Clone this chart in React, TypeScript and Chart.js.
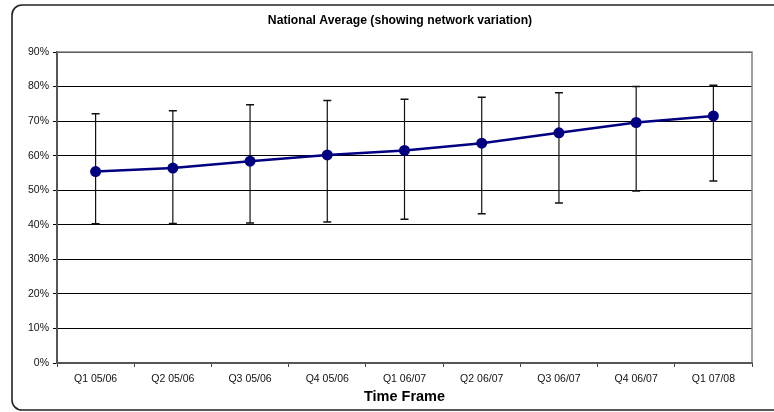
import React, { useEffect, useRef } from "react";
import { Chart, registerables } from "chart.js";

Chart.register(...registerables);

const categories = [
  "Q1 05/06",
  "Q2 05/06",
  "Q3 05/06",
  "Q4 05/06",
  "Q1 06/07",
  "Q2 06/07",
  "Q3 06/07",
  "Q4 06/07",
  "Q1 07/08",
];
const averageValues = [55.4, 56.4, 58.4, 60.2, 61.5, 63.6, 66.6, 69.6, 71.5];
const upperValues = [72.1, 73.0, 74.7, 76.0, 76.3, 76.9, 78.2, 80.0, 80.4];
const lowerValues = [40.3, 40.4, 40.5, 40.8, 41.6, 43.2, 46.3, 49.8, 52.7];
const yTickValues = [0, 10, 20, 30, 40, 50, 60, 70, 80, 90];

const chartTitle = "National Average (showing network variation)";
const xAxisTitle = "Time Frame";

const FONT = "'Liberation Sans', Arial, sans-serif";

const errorBarPlugin = {
  id: "errorBars",
  beforeDatasetsDraw(chart: any) {
    const { ctx, scales } = chart;
    const x = scales.x;
    const y = scales.y;
    ctx.save();
    ctx.strokeStyle = "#111";
    categories.forEach((_, i) => {
      const px = x.getPixelForValue(i);
      const top = y.getPixelForValue(upperValues[i]);
      const bot = y.getPixelForValue(lowerValues[i]);
      ctx.lineWidth = 1.2;
      ctx.beginPath();
      ctx.moveTo(px, top);
      ctx.lineTo(px, bot);
      ctx.stroke();
      ctx.lineWidth = 1.5;
      ctx.beginPath();
      ctx.moveTo(px - 4, top);
      ctx.lineTo(px + 4, top);
      ctx.moveTo(px - 4, bot);
      ctx.lineTo(px + 4, bot);
      ctx.stroke();
    });
    ctx.restore();
  },
};

const framePlugin = {
  id: "frame",
  beforeDatasetsDraw(chart: any) {
    const { ctx, chartArea } = chart;
    ctx.save();
    ctx.strokeStyle = "#808080";
    ctx.lineWidth = 1.5;
    ctx.beginPath();
    ctx.moveTo(chartArea.left, chartArea.top);
    ctx.lineTo(chartArea.right, chartArea.top);
    ctx.lineTo(chartArea.right, chartArea.bottom);
    ctx.stroke();
    ctx.restore();
  },
  afterDraw(chart: any) {
    const { ctx } = chart;
    ctx.save();
    ctx.strokeStyle = "#222";
    ctx.lineWidth = 1.6;
    ctx.beginPath();
    ctx.roundRect(12, 5, 800, 405, 10);
    ctx.stroke();
    ctx.fillStyle = "#000";
    ctx.font = `bold 12.2px ${FONT}`;
    ctx.textAlign = "center";
    ctx.textBaseline = "middle";
    ctx.fillText(chartTitle, 400, 21);
    ctx.restore();
  },
};

export default function App() {
  const canvasRef = useRef<HTMLCanvasElement | null>(null);

  useEffect(() => {
    if (!canvasRef.current) return;
    const chart = new Chart(canvasRef.current, {
      type: "line",
      data: {
        labels: categories,
        datasets: [
          {
            label: "National Average",
            data: averageValues,
            borderColor: "#000080",
            backgroundColor: "#000080",
            borderWidth: 2.5,
            pointRadius: 5.5,
            pointBackgroundColor: "#000080",
            pointBorderColor: "#000080",
            pointBorderWidth: 0,
            tension: 0,
            fill: false,
          },
        ],
      },
      options: {
        animation: false,
        responsive: false,
        devicePixelRatio: 1,
        layout: { padding: { left: 12, right: 22, top: 52, bottom: 0 } },
        plugins: {
          legend: { display: false },
          tooltip: { enabled: false },
          title: { display: false },
        },
        scales: {
          x: {
            type: "category",
            offset: true,
            afterFit(scale: any) {
              scale.height = 49;
            },
            grid: {
              offset: true,
              drawOnChartArea: false,
              drawTicks: true,
              tickLength: 4,
              color: "#444",
              lineWidth: 1,
            },
            border: { display: true, color: "#555", width: 2 },
            ticks: {
              color: "#111",
              padding: 6,
              maxRotation: 0,
              autoSkip: false,
              font: { family: FONT, size: 10.5 },
            },
            title: {
              display: true,
              text: xAxisTitle,
              color: "#000",
              font: { family: FONT, size: 14.5, weight: "bold" },
              padding: { top: 2, bottom: 6 },
            },
          },
          y: {
            min: 0,
            max: 90,
            afterFit(scale: any) {
              scale.width = 45;
            },
            afterBuildTicks(scale: any) {
              scale.ticks = yTickValues.map((v) => ({ value: v }));
            },
            grid: {
              color: "#000",
              lineWidth: 1,
              drawTicks: true,
              tickLength: 4,
            },
            border: { display: true, color: "#555", width: 2 },
            ticks: {
              color: "#111",
              padding: 4,
              font: { family: FONT, size: 10.5 },
              callback: (v: any) => v + "%",
            },
          },
        },
      },
      plugins: [errorBarPlugin, framePlugin],
    });
    return () => chart.destroy();
  }, []);

  return (
    <div style={{ position: "absolute", left: 0, top: 0, width: 774, height: 412, background: "#fff" }}>
      <canvas ref={canvasRef} width={774} height={412} style={{ width: 774, height: 412 }} />
    </div>
  );
}
